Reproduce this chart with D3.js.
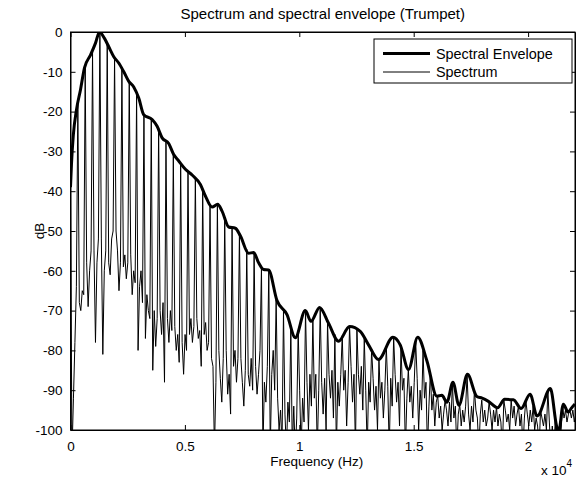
<!DOCTYPE html>
<html>
<head>
<meta charset="utf-8">
<script src="https://d3js.org/d3.v7.min.js"></script>
<style>
  body { margin: 0; background: #fff; }
  svg { display: block; font-family: "Liberation Sans", Arial, sans-serif; }
  .axis path, .axis line { stroke: #000; }
  .axis text { font-size: 13.5px; fill: #000; }
</style>
</head>
<body>
<script>
//wrap everything in a self-executing function
(function(){
  //spectral envelope (Hz, dB)
  var envFreq = [0, 44, 122, 262, 437, 611, 873, 1092, 1266, 1485, 1672, 1891, 2109, 2328, 2546, 2764,
    2983, 3201, 3568, 3786, 4004, 4293, 4511, 4716, 5022, 5328, 5677, 5895, 6188, 6432, 6624, 6913,
    7205, 7424, 7786, 8004, 8223, 8441, 8659, 9026, 9463, 9825, 10262, 10511, 10886, 11279, 11716,
    12197, 12664, 13026, 13463, 14092, 14410, 14773, 15175, 15576, 16013, 16231, 16450, 16716, 16978,
    17349, 17760, 17991, 18266, 18668, 18974, 19358, 19694, 20087, 20393, 20974, 21245, 21332, 21541,
    21747, 21908, 22050];
  var envDb = [-39, -33, -26, -19.5, -14.5, -9, -5.8, -2.8, 0, -1.6, -3.7, -6.2, -7.8, -10, -12.4, -13.8,
    -16.6, -20.8, -22, -23.7, -26.6, -28, -30.8, -32.3, -34.5, -36, -38.3, -41.2, -44, -43.3, -45, -49,
    -49.3, -51.2, -55.6, -55.4, -58, -59.7, -59.8, -67.5, -71, -76.8, -70, -72.7, -69.2, -73.2, -77.7,
    -74, -75.2, -78.6, -82.3, -76.7, -78.6, -84.8, -76.7, -82.6, -91.5, -91.3, -93, -88, -93.8,
    -86, -91.6, -92, -92.8, -94.4, -92.3, -92.4, -94.6, -91, -96.5, -89.6, -99, -100.5, -93.5,
    -95.5, -94.4, -93.5];

  //spectrum: harmonic spacing, level at each harmonic, and the floor between harmonics
  var f0 = 321;
  var startDb = -40;
  var harmonicDb = [-18, -9, -5, 0, -3, -6.5, -9.2, -12.5, -15.4, -20.8,
    -21.9, -24.5, -27.4, -30.6, -32.9, -35, -36.9, -39.6, -43.3, -43.4,
    -47, -49.2, -50.8, -54.6, -55.6, -59, -60, -67.2, -70, -74,
    -75, -70.1, -72, -69.3, -72.8, -76, -76.3, -74, -74.8, -77,
    -79.7, -82.2, -79, -76.8, -79, -84.7, -78, -80, -85.5, -91.4,
    -92.5, -88.2, -93.6, -86.2, -90, -92.5, -93, -94.2, -92.5, -92.4,
    -94, -92.5, -94, -95, -90, -97.5, -94, -95];
  var gapDb = [
    [-106, -92, -78, -64], [-68, -70, -65, -66], [-58, -69, -60, -55], [-55, -78, -58, -52],
    [-52, -81, -60, -55], [-58, -61, -52, -50], [-50, -55, -65, -58], [-59, -56, -62, -58],
    [-56, -66, -60, -63], [-80, -64, -60, -68], [-77, -66, -70, -72], [-85, -70, -79, -72],
    [-70, -76, -68, -88], [-72, -78, -70, -75], [-74, -80, -76, -83], [-78, -86, -76, -80],
    [-76, -72, -78, -74], [-72, -77, -75, -84], [-76, -73, -80, -78], [-82, -84, -105, -88],
    [-80, -87, -93, -82], [-80, -91, -86, -96], [-84, -80, -88, -82], [-82, -88, -94, -85],
    [-86, -89, -82, -90], [-84, -91, -86, -80], [-105, -88, -93, -84], [-105, -86, -80, -90],
    [-92, -100, -95, -104], [-96, -105, -93, -98], [-105, -94, -106, -97], [-90, -105, -92, -98],
    [-88, -100, -86, -94], [-92, -86, -105, -90], [-88, -96, -87, -100], [-86, -92, -85, -97],
    [-105, -88, -94, -86], [-90, -85, -99, -88], [-84, -93, -86, -105], [-86, -91, -84, -95],
    [-90, -105, -88, -93], [-87, -95, -89, -100], [-92, -88, -97, -90], [-89, -105, -87, -94],
    [-86, -93, -88, -99], [-90, -87, -105, -92], [-93, -89, -97, -88], [-87, -100, -90, -95],
    [-92, -88, -105, -94], [-95, -91, -99, -93], [-97, -94, -100, -96], [-95, -99, -93, -98],
    [-97, -94, -105, -96], [-99, -95, -98, -94], [-96, -100, -94, -98], [-95, -97, -105, -96],
    [-98, -95, -99, -97], [-96, -100, -95, -98], [-99, -96, -98, -105], [-95, -98, -96, -100],
    [-97, -94, -99, -96], [-99, -96, -105, -97], [-96, -99, -95, -98], [-100, -97, -99, -105],
    [-97, -99, -96, -100], [-98, -105, -99, -106], [-106, -105, -104, -100], [-97, -95, -98, -96],
    [-97, -95, -98, -96]];

  var xTicks = [0, 5000, 10000, 15000, 20000];
  var xTickLabels = ["0", "0.5", "1", "1.5", "2"];
  var yTicks = [0, -10, -20, -30, -40, -50, -60, -70, -80, -90, -100];

  //frame
  var width = 576, height = 479;
  var left = 70.5, right = 575, top = 32, bottom = 430;

  var svg = d3.select("body").append("svg")
      .attr("width", width)
      .attr("height", height);

  var x = d3.scaleLinear().domain([0, 22050]).range([left, right]);
  var y = d3.scaleLinear().domain([-100, 0]).range([bottom, top]);

  svg.append("clipPath").attr("id", "plotClip")
    .append("rect")
      .attr("x", left).attr("y", top)
      .attr("width", right - left).attr("height", bottom - top);

  //build spectrum points: peak at each harmonic, floor values in between
  var spectrum = [{f: 0, db: startDb}];
  gapDb.forEach(function(gap, g){
      gap.forEach(function(v, j){
          spectrum.push({f: (g + (j + 1) / 5) * f0, db: v});
      });
      if (g < harmonicDb.length){
          spectrum.push({f: (g + 1) * f0, db: harmonicDb[g]});
      };
  });

  var envelope = envFreq.map(function(f, i){ return {f: f, db: envDb[i]}; });

  var plot = svg.append("g").attr("clip-path", "url(#plotClip)");

  plot.append("path")
      .datum(spectrum)
      .attr("fill", "none")
      .attr("stroke", "#000")
      .attr("stroke-width", 1)
      .attr("d", d3.line()
          .x(function(d){ return x(d.f); })
          .y(function(d){ return y(d.db); }));

  plot.append("path")
      .datum(envelope)
      .attr("fill", "none")
      .attr("stroke", "#000")
      .attr("stroke-width", 3)
      .attr("stroke-linejoin", "round")
      .attr("d", d3.line()
          .curve(d3.curveMonotoneX)
          .x(function(d){ return x(d.f); })
          .y(function(d){ return y(d.db); }));

  //axes, matlab style: ticks inward on all four sides
  var tickLen = 5;
  svg.append("g").attr("class", "axis")
      .attr("transform", "translate(0," + bottom + ")")
      .call(d3.axisBottom(x).tickValues(xTicks).tickSizeInner(-tickLen).tickSizeOuter(0).tickPadding(11)
          .tickFormat(function(d, i){ return xTickLabels[i]; }));
  svg.append("g").attr("class", "axis")
      .attr("transform", "translate(0," + top + ")")
      .call(d3.axisTop(x).tickValues(xTicks).tickSizeInner(-tickLen).tickSizeOuter(0).tickFormat(""));
  svg.append("g").attr("class", "axis")
      .attr("transform", "translate(" + left + ",0)")
      .call(d3.axisLeft(y).tickValues(yTicks).tickSizeInner(-tickLen).tickSizeOuter(0).tickPadding(8)
          .tickFormat(function(d){ return String(d); }));
  svg.append("g").attr("class", "axis")
      .attr("transform", "translate(" + right + ",0)")
      .call(d3.axisRight(y).tickValues(yTicks).tickSizeInner(-tickLen).tickSizeOuter(0).tickFormat(""));

  //box
  svg.append("rect")
      .attr("x", left).attr("y", top)
      .attr("width", right - left).attr("height", bottom - top)
      .attr("fill", "none").attr("stroke", "#000").attr("stroke-width", 1);

  //titles
  svg.append("text")
      .attr("x", (left + right) / 2).attr("y", 19)
      .attr("text-anchor", "middle").attr("font-size", 15)
      .text("Spectrum and spectral envelope (Trumpet)");
  svg.append("text")
      .attr("x", (left + right) / 2 - 6).attr("y", 466)
      .attr("text-anchor", "middle").attr("font-size", 13.5)
      .text("Frequency (Hz)");
  svg.append("text")
      .attr("transform", "translate(44," + ((top + bottom) / 2) + ") rotate(-90)")
      .attr("text-anchor", "middle").attr("font-size", 13.5)
      .text("dB");
  var mult = svg.append("text")
      .attr("x", 541).attr("y", 475).attr("font-size", 13.5)
      .text("x 10");
  mult.append("tspan").attr("dy", -8).attr("font-size", 10).text("4");

  //legend
  var legend = svg.append("g").attr("transform", "translate(374,39)");
  legend.append("rect")
      .attr("width", 198).attr("height", 44)
      .attr("fill", "#fff").attr("stroke", "#000").attr("stroke-width", 1);
  var legItems = [{name: "Spectral Envelope", w: 3}, {name: "Spectrum", w: 1}];
  legItems.forEach(function(d, i){
      var ly = 14.5 + i * 18.5;
      legend.append("line")
          .attr("x1", 9).attr("x2", 56).attr("y1", ly).attr("y2", ly)
          .attr("stroke", "#000").attr("stroke-width", d.w);
      legend.append("text")
          .attr("x", 62).attr("y", ly + 5).attr("font-size", 14.4)
          .text(d.name);
  });
})();
</script>
</body>
</html>
